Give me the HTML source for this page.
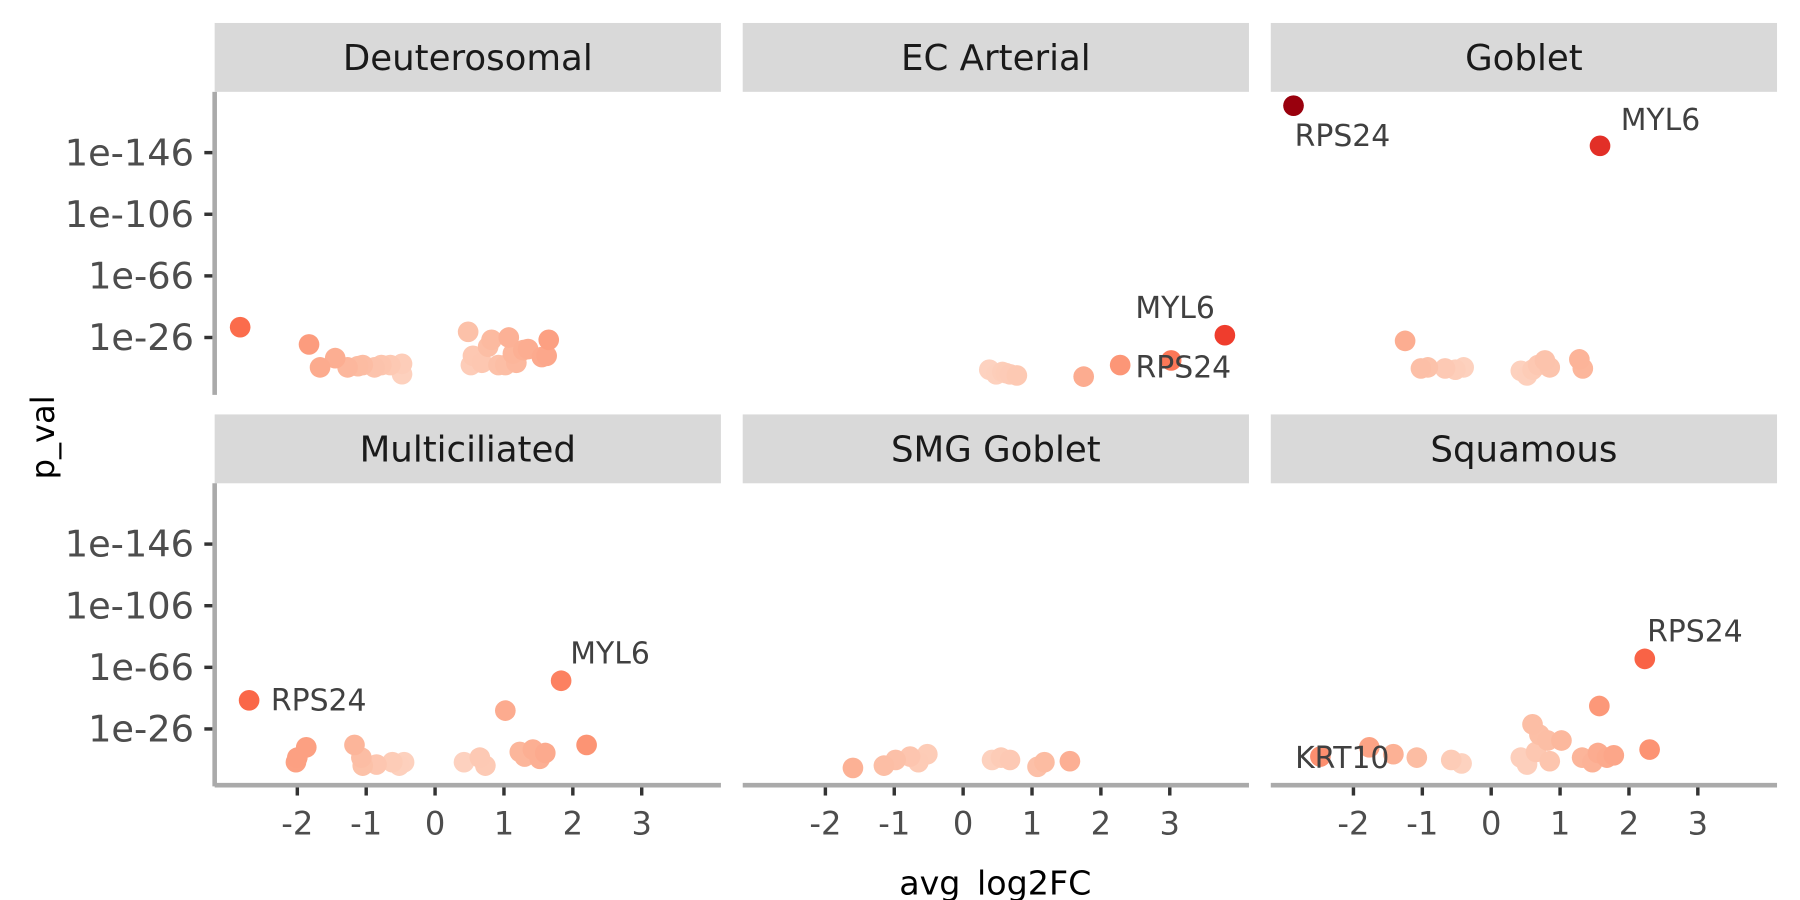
<!DOCTYPE html>
<html><head><meta charset="utf-8">
<style>
html,body{margin:0;padding:0;background:#fff;}
svg{display:block;font-family:"DejaVu Sans","Liberation Sans",sans-serif;}
</style></head>
<body>
<svg id="chart" width="1800" height="900" viewBox="0 0 1568 784" xmlns="http://www.w3.org/2000/svg">
<g id="root"></g>
</svg>
<script>
// ---- data: [avg_log2FC] and [-log10 p_val] per panel ----
const panelNames = ["Deuterosomal","EC Arterial","Goblet","Multiciliated","SMG Goblet","Squamous"];
const fcDeut = [-2.83,-1.83,-1.67,-1.45,-1.27,-1.12,-1.05,-0.88,-0.78,-0.65,-0.48,-0.48,0.48,0.52,0.55,0.68,0.77,0.82,0.92,1.02,1.07,1.13,1.18,1.28,1.35,1.55,1.65,1.62];
const nlpDeut = [32.7,21.5,6.6,12.6,6.6,7.4,8.1,6.6,8.1,8.1,8.9,2.2,29.7,8.1,14.1,9.6,20.0,24.5,8.1,8.1,26,15.6,9.6,17.8,18.5,13.3,24.5,14.1];
const fcEC = [0.38,0.48,0.57,0.62,0.68,0.78,1.75,2.28,3.02,3.8];
const nlpEC = [5.1,2.1,3.6,2.9,2.1,1.4,0.6,8.1,11.1,27.5];
const fcGob = [-2.87,1.58,-1.25,-1.02,-0.92,-0.67,-0.52,-0.4,0.43,0.52,0.6,0.68,0.78,0.85,1.28,1.33];
const nlpGob = [176.5,150.4,23.8,5.9,6.6,5.9,5.1,6.6,4.4,1.4,5.1,8.1,11.1,6.6,11.8,5.9];
const fcMulti = [-2.7,1.83,1.02,2.2,-1.87,-2.0,-2.02,-1.17,-1.07,-1.05,-0.85,-0.62,-0.45,-0.52,0.42,0.65,0.73,1.23,1.3,1.42,1.52,1.6];
const nlpMulti = [44.6,57.3,37.9,15.6,14.1,7.4,4.4,15.6,7.4,2.2,2.9,4.4,4.4,2.2,4.4,7.4,2.2,11.1,8.1,12.6,6.6,10.4];
const fcSMG = [-1.6,-1.15,-0.98,-0.77,-0.65,-0.52,0.42,0.55,0.68,1.08,1.18,1.55];
const nlpSMG = [0.7,2.2,5.9,8.1,4.4,9.6,5.9,7.4,5.9,1.4,4.4,5.1];
const fcSq = [2.23,1.57,2.3,0.6,0.7,0.82,1.02,-2.48,-1.77,-1.42,-1.08,-0.58,-0.43,0.43,0.52,0.65,0.85,1.32,1.47,1.55,1.68,1.78];
const nlpSq = [71.5,40.9,12.6,29,22.3,18.5,18.5,8.1,14.1,9.6,7.4,5.9,3.6,7.4,2.9,11.1,5.1,7.4,4.4,10.4,7.4,8.9];
// gene labels
const labelPanel = [1,1,2,2,3,3,5,5];
const labelPoint = [9,8,0,1,0,1,0,7];
const labelText = ["MYL6","RPS24","RPS24","MYL6","RPS24","MYL6","RPS24","KRT10"];
const labelDx = [-78,-31,1,18,19,8,2,-22];
const labelDy = [-24,6,26,-23,0,-24,-24,1];
const xTicks = [-2,-1,0,1,2,3];
const yTicks = [26,66,106,146];
const yTickLabels = ["1e-26","1e-66","1e-106","1e-146"];

const fcs = [fcDeut,fcEC,fcGob,fcMulti,fcSMG,fcSq];
const nlps = [nlpDeut,nlpEC,nlpGob,nlpMulti,nlpSMG,nlpSq];

const NS="http://www.w3.org/2000/svg";
const root=document.getElementById('root');
function mk(tag,attrs,parent){const e=document.createElementNS(NS,tag);for(const k in attrs)e.setAttribute(k,attrs[k]);(parent||root).appendChild(e);return e;}

const panelLeft=[187,647,1107];
const panelW=441;
const rowTop=[80,421];
const stripH=60;
function xScale(col,v){return panelLeft[col]+192+v*60;}
function yScale(row,v){return rowTop[row]+214+(26-v)*1.342;}

const ramp=[[0,[254,224,210]],[0.2,[252,187,161]],[0.4,[252,146,114]],[0.55,[251,106,74]],[0.68,[239,59,44]],[0.78,[203,24,29]],[0.9,[153,0,13]]];
function score(fc,nlp){return Math.abs(fc)/4*0.62+nlp/176*0.55;}
function color(fc,nlp){
  let t=Math.max(0,Math.min(0.9,score(fc,nlp)));
  for(let i=1;i<ramp.length;i++){if(t<=ramp[i][0]){const a=ramp[i-1],b=ramp[i];const f=(t-a[0])/(b[0]-a[0]);return 'rgb('+a[1].map((c,j)=>Math.round(c+(b[1][j]-c)*f)).join(',')+')';}}
  return 'rgb(153,0,13)';
}

for(let p=0;p<6;p++){
  const col=p%3,row=Math.floor(p/3);
  const g=mk('g',{});
  
  
  const strip=mk('rect',{x:panelLeft[col],y:rowTop[row]-stripH,width:panelW,height:stripH,fill:'#d9d9d9'},g);
  
  
  const st=mk('text',{x:panelLeft[col]+panelW/2,y:rowTop[row]-stripH/2+11,'text-anchor':'middle','font-size':31,fill:'#1a1a1a'},g);
  st.textContent=panelNames[p];
  
  
  const bottom=rowTop[row]+264;
  if(col===0){
    const ax=mk('line',{x1:187,y1:rowTop[row],x2:187,y2:bottom,stroke:'#aaaaaa','stroke-width':4},g);
    
    
    yTicks.forEach((v,i)=>{
      const y=yScale(row,v);
      const tk=mk('line',{x1:178,y1:y,x2:185,y2:y,stroke:'#333','stroke-width':3},g);
      
      
      const tl=mk('text',{x:169,y:y+11,'text-anchor':'end','font-size':32,fill:'#4d4d4d'},g);
      tl.textContent=yTickLabels[i];
      
      
    });
  }
  if(row===1){
    const ax=mk('line',{x1:panelLeft[col],y1:684,x2:panelLeft[col]+panelW,y2:684,stroke:'#aaaaaa','stroke-width':4},g);
    
    
    xTicks.forEach(v=>{
      const x=xScale(col,v);
      const tk=mk('line',{x1:x,y1:686,x2:x,y2:693,stroke:'#333','stroke-width':3},g);
      
      
      const tl=mk('text',{x:x,y:727,'text-anchor':'middle','font-size':28,fill:'#4d4d4d'},g);
      tl.textContent=String(v);
      
      
    });
  }
  const fc=fcs[p],nl=nlps[p];
  const order=fc.map((_,i)=>i).sort((a,b)=>score(fc[a],nl[a])-score(fc[b],nl[b]));
  order.forEach(i=>{
    const c=mk('circle',{cx:xScale(col,fc[i]),cy:yScale(row,nl[i]),r:9,fill:color(fc[i],nl[i])},g);
    
    
  });
}
for(let k=0;k<labelText.length;k++){
  const p=labelPanel[k],col=p%3,row=Math.floor(p/3),i=labelPoint[k];
  const t=mk('text',{x:xScale(col,fcs[p][i])+labelDx[k],y:yScale(row,nlps[p][i])+labelDy[k]+9,'font-size':26,fill:'#404040'});
  t.textContent=labelText[k];
  
  
}
const xt=mk('text',{x:867,y:779,'text-anchor':'middle','font-size':29,fill:'#000'});
xt.textContent='avg_log2FC';


const yt=mk('text',{x:0,y:0,'text-anchor':'middle','font-size':28,fill:'#000',transform:'translate(47,381) rotate(-90)'});
yt.textContent='p_val';


</script>
</body></html>
